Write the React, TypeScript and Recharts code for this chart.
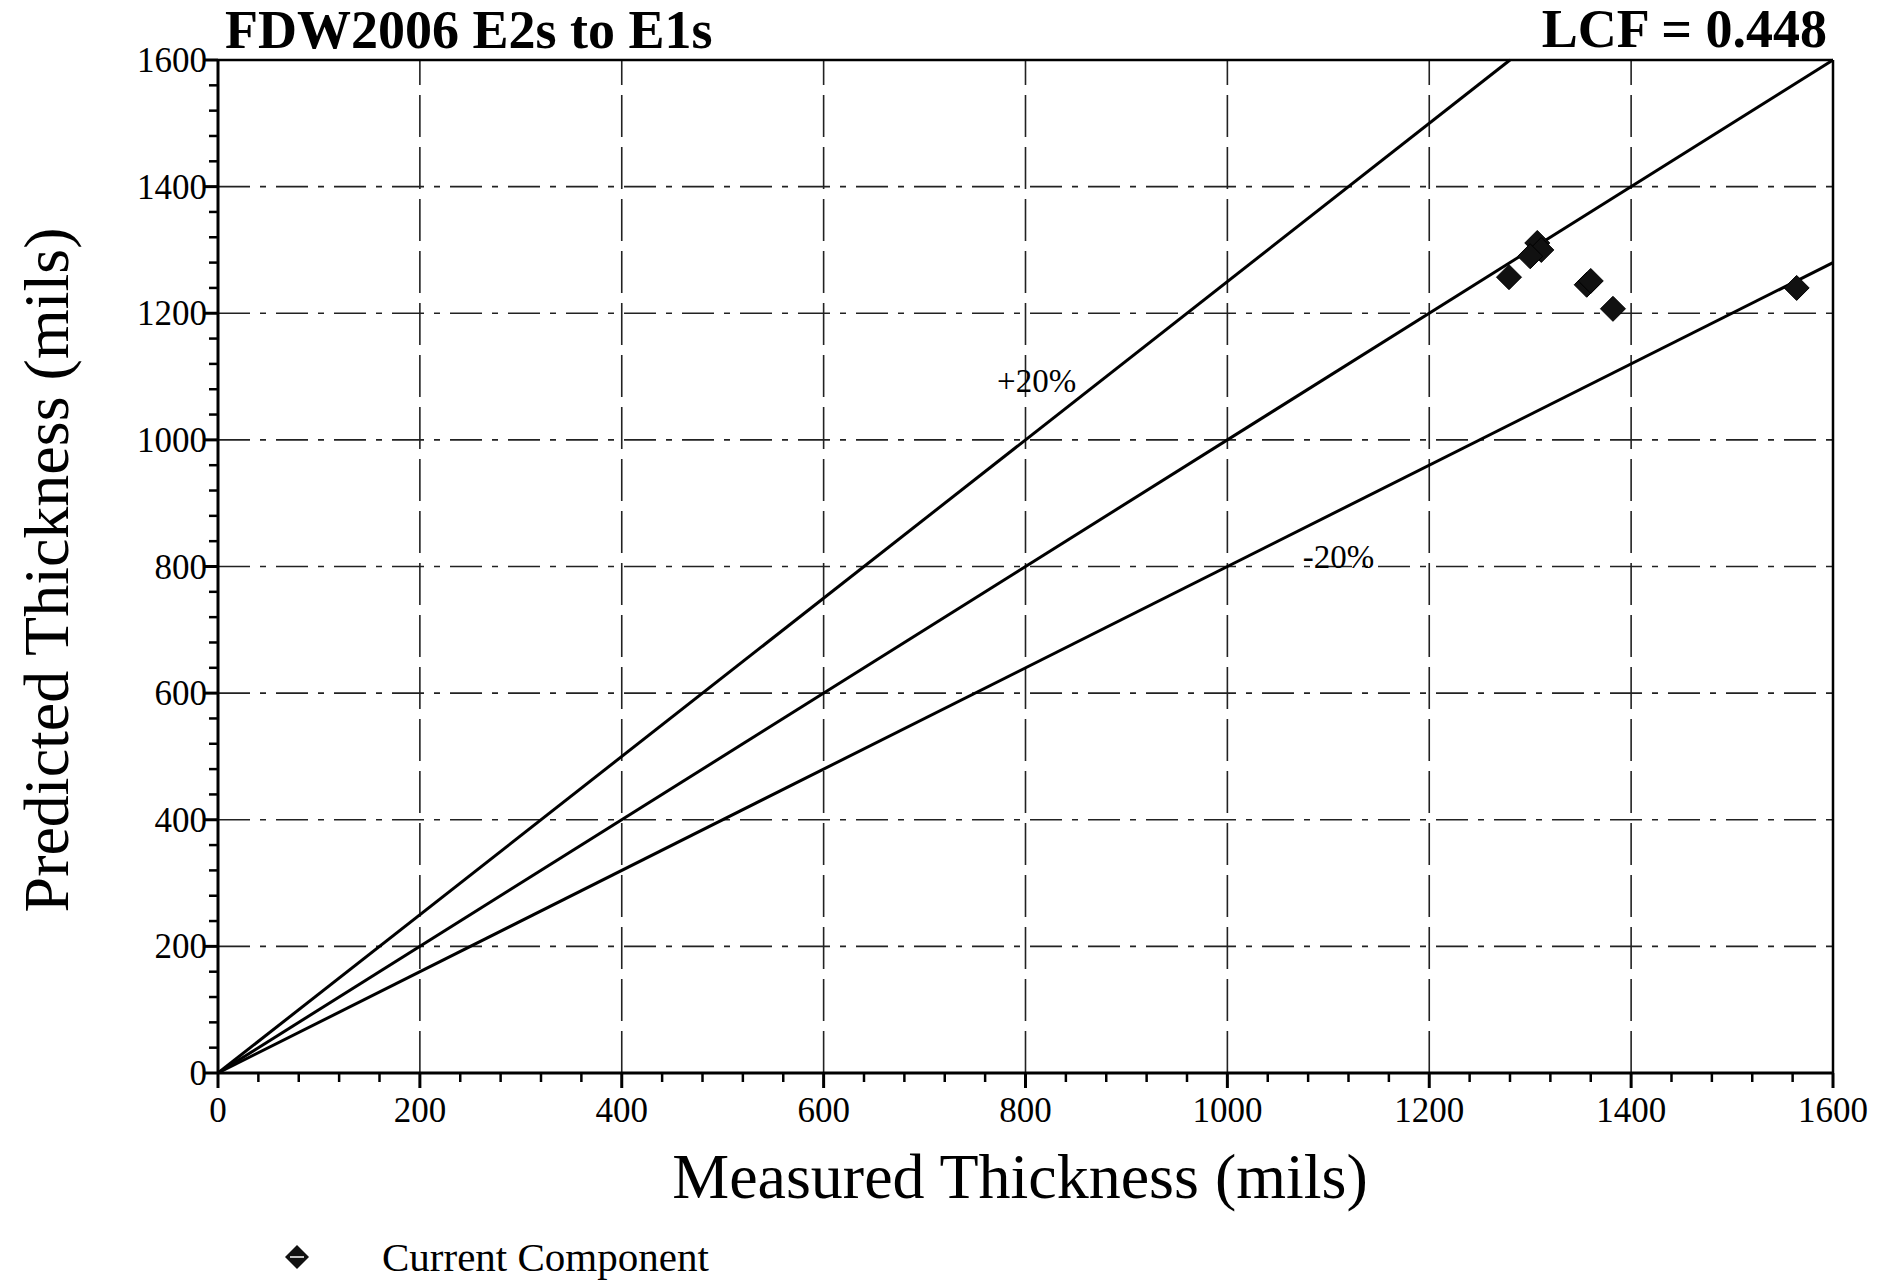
import React from 'react';
import {
  ScatterChart,
  Scatter,
  XAxis,
  YAxis,
  ReferenceLine,
  ReferenceDot,
  Legend,
} from 'recharts';

// measured vs predicted wall thickness (mils)
const currentComponent = [
  { x: 1307, y: 1311 },
  { x: 1311, y: 1300 },
  { x: 1300, y: 1290 },
  { x: 1279, y: 1257 },
  { x: 1356, y: 1245 },
  { x: 1360, y: 1251 },
  { x: 1382, y: 1207 },
  { x: 1564, y: 1240 },
];

// reference lines: measured = predicted, and the +/-20% bands
const unityLine = [
  { x: 0, y: 0 },
  { x: 1600, y: 1600 },
];
const plus20Line = [
  { x: 0, y: 0 },
  { x: 1280, y: 1600 },
];
const minus20Line = [
  { x: 0, y: 0 },
  { x: 1600, y: 1280 },
];

const majorTicks = [200, 400, 600, 800, 1000, 1200, 1400];
const axisTicks = [
  0, 40, 80, 120, 160, 200, 240, 280, 320, 360, 400, 440, 480, 520, 560, 600,
  640, 680, 720, 760, 800, 840, 880, 920, 960, 1000, 1040, 1080, 1120, 1160,
  1200, 1240, 1280, 1320, 1360, 1400, 1440, 1480, 1520, 1560, 1600,
];

const FONT = '"Liberation Serif", "Times New Roman", serif';
const W = 1874;
const H = 1272;

const XTick = (props: any) => {
  const { x, y, payload } = props;
  const major = payload.value % 200 === 0;
  return (
    <g>
      <line x1={x} x2={x} y1={y} y2={y + (major ? 15 : 9)} stroke="#000" strokeWidth={major ? 3 : 2.5} />
      {major && (
        <text x={x} y={y + 49} textAnchor="middle" fontFamily={FONT} fontSize={35} fill="#000">
          {payload.value}
        </text>
      )}
    </g>
  );
};

const YTick = (props: any) => {
  const { x, y, payload } = props;
  const major = payload.value % 200 === 0;
  return (
    <g>
      <line x1={x - (major ? 15 : 9)} x2={x} y1={y} y2={y} stroke="#000" strokeWidth={major ? 3 : 2.5} />
      {major && (
        <text x={x - 11} y={y + 12} textAnchor="end" fontFamily={FONT} fontSize={35} fill="#000">
          {payload.value}
        </text>
      )}
    </g>
  );
};

const Diamond = (props: any) => {
  const { cx, cy } = props;
  const r = 12.5;
  return (
    <polygon
      points={`${cx},${cy - r} ${cx + r},${cy} ${cx},${cy + r} ${cx - r},${cy}`}
      fill="#111"
      stroke="#000"
      strokeWidth={1}
    />
  );
};

const NoDot = () => <g />;

const LegendContent = () => (
  <div
    style={{
      display: 'flex',
      alignItems: 'center',
      fontFamily: FONT,
      fontSize: 41,
      lineHeight: '40px',
      color: '#000',
    }}
  >
    <svg width={26} height={26} style={{ marginRight: 72 }}>
      <polygon points="13,1 25,13 13,25 1,13" fill="#111" />
      <line x1={6} x2={20} y1={13} y2={13} stroke="#fff" strokeWidth={1.5} />
    </svg>
    <span>Current Component</span>
  </div>
);

const BandLabel = (text: string) => (props: any) => {
  const { viewBox } = props;
  const cx = viewBox.x + viewBox.width / 2;
  const cy = viewBox.y + viewBox.height / 2;
  return (
    <text x={cx} y={cy + 11} textAnchor="middle" fontFamily={FONT} fontSize={33} fill="#000">
      {text}
    </text>
  );
};

export default function App() {
  return (
    <div style={{ position: 'relative', width: W, height: H, background: '#fff' }}>
      <ScatterChart width={W} height={H} margin={{ top: 52, right: 49, bottom: 147, left: 130 }}>
        <XAxis
          type="number"
          dataKey="x"
          domain={[0, 1600]}
          ticks={axisTicks}
          interval={0}
          height={60}
          tickSize={0}
          tickMargin={0}
          tickLine={false}
          tick={<XTick />}
          axisLine={{ stroke: '#000', strokeWidth: 3 }}
        />
        <YAxis
          type="number"
          dataKey="y"
          domain={[0, 1600]}
          ticks={axisTicks}
          interval={0}
          width={80}
          tickSize={0}
          tickMargin={0}
          tickLine={false}
          tick={<YTick />}
          axisLine={{ stroke: '#000', strokeWidth: 3 }}
        />

        {majorTicks.map((v) => (
          <ReferenceLine key={`gx${v}`} x={v} stroke="#222" strokeWidth={1.6} strokeDasharray="42 10" />
        ))}
        {majorTicks.map((v) => (
          <ReferenceLine key={`gy${v}`} y={v} stroke="#222" strokeWidth={1.6} strokeDasharray="32 10 6 10" />
        ))}
        <ReferenceLine x={1600} stroke="#000" strokeWidth={2.5} />
        <ReferenceLine y={1600} stroke="#000" strokeWidth={2.5} />

        <Scatter data={plus20Line} line={{ stroke: '#000', strokeWidth: 3 }} shape={NoDot} legendType="none" isAnimationActive={false} />
        <Scatter data={unityLine} line={{ stroke: '#000', strokeWidth: 3 }} shape={NoDot} legendType="none" isAnimationActive={false} />
        <Scatter data={minus20Line} line={{ stroke: '#000', strokeWidth: 3 }} shape={NoDot} legendType="none" isAnimationActive={false} />

        <ReferenceDot x={811} y={1093} r={0} stroke="none" fill="none" label={{ content: BandLabel('+20%') }} />
        <ReferenceDot x={1110} y={815} r={0} stroke="none" fill="none" label={{ content: BandLabel('-20%') }} />

        <Scatter name="Current Component" data={currentComponent} shape={Diamond} isAnimationActive={false} />

        <Legend
          layout="horizontal"
          verticalAlign="middle"
          align="center"
          content={LegendContent}
          wrapperStyle={{ left: 276, top: 1229, width: 640, height: 40 }}
        />
      </ScatterChart>

      <svg
        width={W}
        height={H + 8}
        style={{ position: 'absolute', left: 0, top: -8, pointerEvents: 'none' }}
      >
        <text x={217} y={48} fontFamily={FONT} fontWeight="bold" fontSize={54} fill="#000">
          FDW2006 E2s to E1s
        </text>
        <text x={1819} y={47} textAnchor="end" fontFamily={FONT} fontWeight="bold" fontSize={54} fill="#000">
          LCF = 0.448
        </text>
        <text x={1012} y={1198} textAnchor="middle" fontFamily={FONT} fontSize={64} fill="#000">
          Measured Thickness (mils)
        </text>
        <text
          x={60}
          y={570}
          textAnchor="middle"
          transform="rotate(-90 60 570)"
          fontFamily={FONT}
          fontSize={64}
          fill="#000"
        >
          Predicted Thickness (mils)
        </text>
      </svg>
    </div>
  );
}
